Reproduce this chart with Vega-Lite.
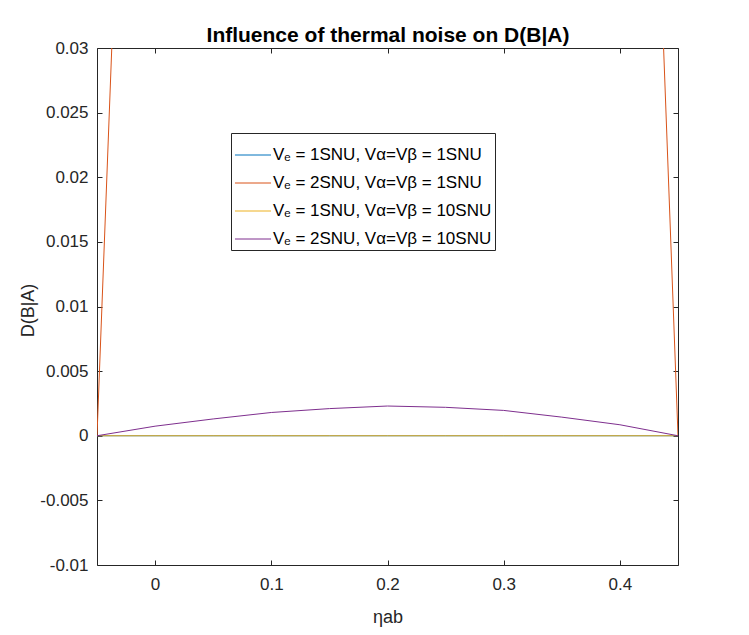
{
  "$schema": "https://vega.github.io/schema/vega-lite/v6.json",
  "autosize": "none",
  "width": 581,
  "height": 517,
  "padding": {"left": 97, "top": 48, "right": 71, "bottom": 70},
  "background": "#FFFFFF",
  "data": {
    "values": [
      {"s": "s1", "eta": -0.05, "d": 0},
      {"s": "s1", "eta": 0.0, "d": 0},
      {"s": "s1", "eta": 0.05, "d": 0},
      {"s": "s1", "eta": 0.1, "d": 0},
      {"s": "s1", "eta": 0.15, "d": 0},
      {"s": "s1", "eta": 0.2, "d": 0},
      {"s": "s1", "eta": 0.25, "d": 0},
      {"s": "s1", "eta": 0.3, "d": 0},
      {"s": "s1", "eta": 0.35, "d": 0},
      {"s": "s1", "eta": 0.4, "d": 0},
      {"s": "s1", "eta": 0.45, "d": 0},
      {"s": "s2", "eta": -0.05, "d": 0},
      {"s": "s2", "eta": 0.0, "d": 0.118},
      {"s": "s2", "eta": 0.05, "d": 0.19},
      {"s": "s2", "eta": 0.1, "d": 0.24},
      {"s": "s2", "eta": 0.15, "d": 0.27},
      {"s": "s2", "eta": 0.2, "d": 0.28},
      {"s": "s2", "eta": 0.25, "d": 0.27},
      {"s": "s2", "eta": 0.3, "d": 0.24},
      {"s": "s2", "eta": 0.35, "d": 0.19},
      {"s": "s2", "eta": 0.4, "d": 0.121},
      {"s": "s2", "eta": 0.45, "d": 0},
      {"s": "s3", "eta": -0.05, "d": 0},
      {"s": "s3", "eta": 0.0, "d": 0},
      {"s": "s3", "eta": 0.05, "d": 0},
      {"s": "s3", "eta": 0.1, "d": 0},
      {"s": "s3", "eta": 0.15, "d": 0},
      {"s": "s3", "eta": 0.2, "d": 0},
      {"s": "s3", "eta": 0.25, "d": 0},
      {"s": "s3", "eta": 0.3, "d": 0},
      {"s": "s3", "eta": 0.35, "d": 0},
      {"s": "s3", "eta": 0.4, "d": 0},
      {"s": "s3", "eta": 0.45, "d": 0},
      {"s": "s4", "eta": -0.05, "d": 0},
      {"s": "s4", "eta": 0.0, "d": 0.00074},
      {"s": "s4", "eta": 0.05, "d": 0.0013},
      {"s": "s4", "eta": 0.1, "d": 0.0018},
      {"s": "s4", "eta": 0.15, "d": 0.0021},
      {"s": "s4", "eta": 0.2, "d": 0.0023},
      {"s": "s4", "eta": 0.25, "d": 0.0022},
      {"s": "s4", "eta": 0.3, "d": 0.00196},
      {"s": "s4", "eta": 0.35, "d": 0.00144},
      {"s": "s4", "eta": 0.4, "d": 0.00085},
      {"s": "s4", "eta": 0.45, "d": 0}
    ]
  },
  "layer": [
    {
      "mark": {"type": "line", "clip": true, "strokeWidth": 1},
      "encoding": {
        "x": {
          "field": "eta",
          "type": "quantitative",
          "scale": {"domain": [-0.05, 0.45], "nice": false, "zero": false},
          "axis": {
            "title": "ηab",
            "values": [0, 0.1, 0.2, 0.3, 0.4],
            "labelExpr": "replace(format(datum.value, '~g'), '−', '-')",
            "titleY": 52,
            "titleBaseline": "middle",
            "labelPadding": 16
          }
        },
        "y": {
          "field": "d",
          "type": "quantitative",
          "scale": {"domain": [-0.01, 0.03], "nice": false, "zero": false},
          "axis": {
            "title": "D(B|A)",
            "values": [-0.01, -0.005, 0, 0.005, 0.01, 0.015, 0.02, 0.025, 0.03],
            "labelExpr": "replace(format(datum.value, '~g'), '−', '-')",
            "titleX": -69,
            "titleY": 262,
            "titleAngle": -90,
            "titleBaseline": "middle",
            "labelPadding": 14
          }
        },
        "color": {
          "field": "s",
          "type": "nominal",
          "scale": {
            "domain": ["s1", "s2", "s3", "s4"],
            "range": ["#0072BD", "#D95319", "#EDB120", "#7E2F8E"]
          },
          "legend": {
            "title": null,
            "orient": "none",
            "legendX": 134,
            "legendY": 85,
            "labelExpr": "datum.value == 's1' ? 'Vₑ = 1SNU, Vα=Vβ = 1SNU' : datum.value == 's2' ? 'Vₑ = 2SNU, Vα=Vβ = 1SNU' : datum.value == 's3' ? 'Vₑ = 1SNU, Vα=Vβ = 10SNU' : 'Vₑ = 2SNU, Vα=Vβ = 10SNU'",
            "symbolType": "stroke",
            "symbolSize": 1300,
            "symbolStrokeWidth": 1,
            "labelFontSize": 17,
            "labelColor": "#000000",
            "labelOffset": 1,
            "rowPadding": 1,
            "padding": 3,
            "strokeColor": "#262626",
            "fillColor": "#FFFFFF",
            "labelLimit": 400
          }
        }
      }
    },
    {
      "mark": {"type": "line", "strokeOpacity": 0},
      "encoding": {
        "x": {
          "field": "eta",
          "type": "quantitative",
          "axis": {
            "orient": "top",
            "values": [0, 0.1, 0.2, 0.3, 0.4],
            "labels": false,
            "title": "Influence of thermal noise on D(B|A)",
            "titleFontSize": 21,
            "titleFontWeight": "bold",
            "titleColor": "#000000",
            "titleY": -7,
            "titleBaseline": "alphabetic"
          }
        },
        "y": {
          "field": "d",
          "type": "quantitative",
          "axis": {"orient": "right", "values": [-0.01, -0.005, 0, 0.005, 0.01, 0.015, 0.02, 0.025, 0.03], "labels": false, "title": null}
        },
        "detail": {"field": "s"}
      }
    }
  ],
  "resolve": {"axis": {"x": "independent", "y": "independent"}},
  "config": {
    "font": "Liberation Sans",
    "view": {"stroke": null},
    "axis": {
      "grid": false,
      "domainColor": "#262626",
      "tickColor": "#262626",
      "tickSize": -5,
      "labelColor": "#262626",
      "labelFontSize": 17,
      "titleColor": "#262626",
      "titleFontSize": 18,
      "titleFontWeight": "normal"
    }
  }
}
